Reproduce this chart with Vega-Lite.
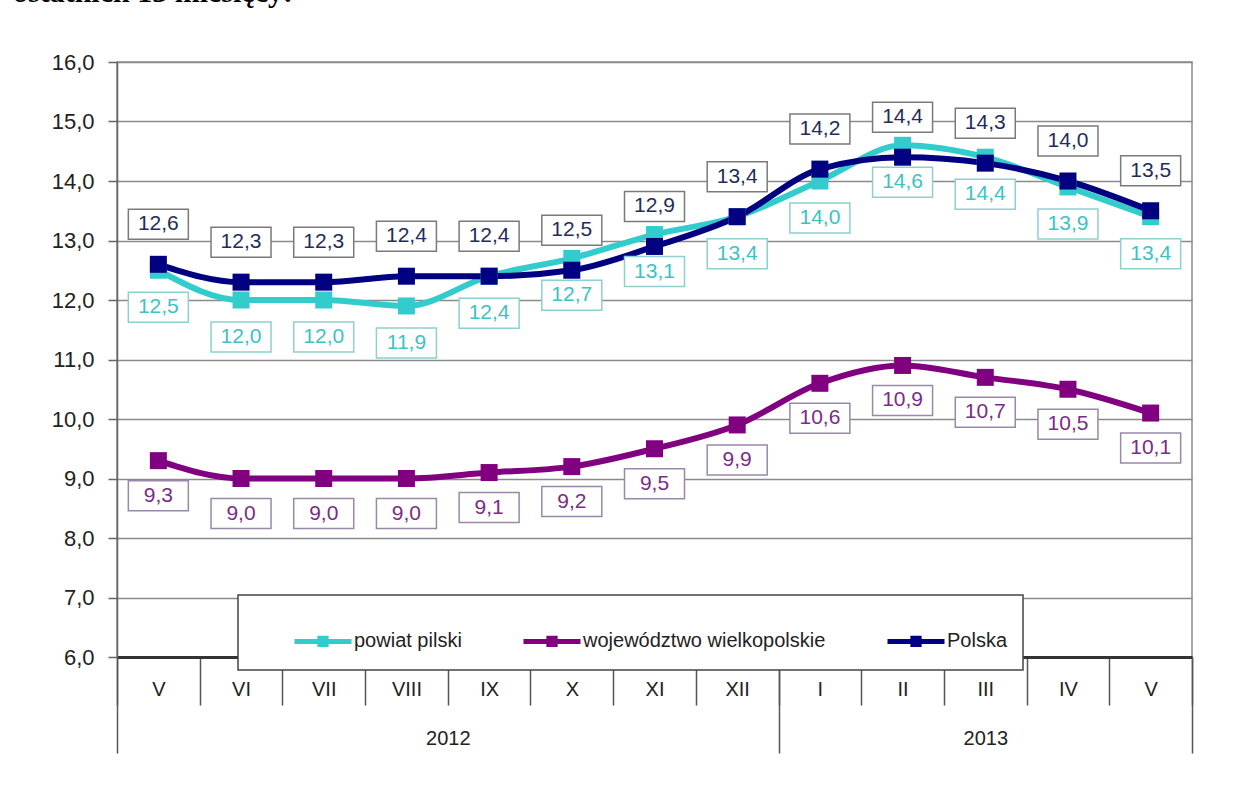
{
  "$schema": "https://vega.github.io/schema/vega-lite/v6.json",
  "width": 1075,
  "height": 595,
  "autosize": {"type": "none"},
  "padding": {"left": 117, "top": 62, "right": 42, "bottom": 136},
  "background": "white",
  "config": {
    "locale": {"number": {"decimal": ",", "thousands": "\u00a0", "grouping": [3], "currency": ["", " zł"]}},
    "view": {"stroke": "#8c8c8c", "strokeWidth": 1.5},
    "font": "Liberation Sans"
  },
  "title": {
    "text": "ostatnich 13 miesięcy:",
    "anchor": "start",
    "frame": "group",
    "offset": 19,
    "dx": -104,
    "baseline": "alphabetic",
    "font": "Liberation Serif",
    "fontSize": 30,
    "fontWeight": "bold",
    "color": "#000000"
  },
  "datasets": {
    "main": [
      {"series": "powiat pilski", "period": "V 2012", "value": 12.5},
      {"series": "powiat pilski", "period": "VI 2012", "value": 12.0},
      {"series": "powiat pilski", "period": "VII 2012", "value": 12.0},
      {"series": "powiat pilski", "period": "VIII 2012", "value": 11.9},
      {"series": "powiat pilski", "period": "IX 2012", "value": 12.4},
      {"series": "powiat pilski", "period": "X 2012", "value": 12.7},
      {"series": "powiat pilski", "period": "XI 2012", "value": 13.1},
      {"series": "powiat pilski", "period": "XII 2012", "value": 13.4},
      {"series": "powiat pilski", "period": "I 2013", "value": 14.0},
      {"series": "powiat pilski", "period": "II 2013", "value": 14.6},
      {"series": "powiat pilski", "period": "III 2013", "value": 14.4},
      {"series": "powiat pilski", "period": "IV 2013", "value": 13.9},
      {"series": "powiat pilski", "period": "V 2013", "value": 13.4},
      {"series": "województwo wielkopolskie", "period": "V 2012", "value": 9.3},
      {"series": "województwo wielkopolskie", "period": "VI 2012", "value": 9.0},
      {"series": "województwo wielkopolskie", "period": "VII 2012", "value": 9.0},
      {"series": "województwo wielkopolskie", "period": "VIII 2012", "value": 9.0},
      {"series": "województwo wielkopolskie", "period": "IX 2012", "value": 9.1},
      {"series": "województwo wielkopolskie", "period": "X 2012", "value": 9.2},
      {"series": "województwo wielkopolskie", "period": "XI 2012", "value": 9.5},
      {"series": "województwo wielkopolskie", "period": "XII 2012", "value": 9.9},
      {"series": "województwo wielkopolskie", "period": "I 2013", "value": 10.6},
      {"series": "województwo wielkopolskie", "period": "II 2013", "value": 10.9},
      {"series": "województwo wielkopolskie", "period": "III 2013", "value": 10.7},
      {"series": "województwo wielkopolskie", "period": "IV 2013", "value": 10.5},
      {"series": "województwo wielkopolskie", "period": "V 2013", "value": 10.1},
      {"series": "Polska", "period": "V 2012", "value": 12.6},
      {"series": "Polska", "period": "VI 2012", "value": 12.3},
      {"series": "Polska", "period": "VII 2012", "value": 12.3},
      {"series": "Polska", "period": "VIII 2012", "value": 12.4},
      {"series": "Polska", "period": "IX 2012", "value": 12.4},
      {"series": "Polska", "period": "X 2012", "value": 12.5},
      {"series": "Polska", "period": "XI 2012", "value": 12.9},
      {"series": "Polska", "period": "XII 2012", "value": 13.4},
      {"series": "Polska", "period": "I 2013", "value": 14.2},
      {"series": "Polska", "period": "II 2013", "value": 14.4},
      {"series": "Polska", "period": "III 2013", "value": 14.3},
      {"series": "Polska", "period": "IV 2013", "value": 14.0},
      {"series": "Polska", "period": "V 2013", "value": 13.5}
    ],
    "years": [
      {"year": "2012", "start": 0, "end": 8},
      {"year": "2013", "start": 8, "end": 13}
    ]
  },
  "layer": [
    {
      "data": {"name": "main"},
      "encoding": {
        "x": {
          "field": "period",
          "type": "nominal",
          "sort": null,
          "scale": {"type": "band", "paddingInner": 0, "paddingOuter": 0},
          "axis": {
            "title": null,
            "orient": "bottom",
            "grid": false,
            "tickBand": "extent",
            "tickSize": 48,
            "tickColor": "#555555",
            "tickWidth": 1.5,
            "labelAngle": 0,
            "labelPadding": -26,
            "labelFont": "Liberation Sans",
            "labelFontSize": 20,
            "labelColor": "#222222",
            "labelExpr": "split(datum.label, ' ')[0]",
            "domainColor": "#333333",
            "domainWidth": 3
          }
        },
        "y": {
          "field": "value",
          "type": "quantitative",
          "scale": {"domain": [6, 16], "nice": false, "zero": false},
          "axis": {
            "title": null,
            "values": [6, 7, 8, 9, 10, 11, 12, 13, 14, 15, 16],
            "format": ".1f",
            "labelFontSize": 22,
            "labelColor": "#222222",
            "labelPadding": 14,
            "tickSize": 9,
            "tickColor": "#666666",
            "tickWidth": 1.5,
            "domainColor": "#666666",
            "domainWidth": 1.5,
            "gridColor": "#8a8a8a",
            "gridWidth": 1.5
          }
        }
      },
      "layer": [
        {
          "mark": {"type": "line", "interpolate": "monotone", "strokeWidth": 6},
          "encoding": {
            "color": {
              "field": "series",
              "type": "nominal",
              "scale": {
                "domain": ["powiat pilski", "województwo wielkopolskie", "Polska"],
                "range": ["#33CCCC", "#800080", "#000080"]
              },
              "legend": {
                "orient": "none",
                "legendX": 121,
                "legendY": 533,
                "direction": "horizontal",
                "title": "\u00a0",
                "titleOrient": "left",
                "titlePadding": 39,
                "titleFontSize": 20,
                "fillColor": "white",
                "strokeColor": "#444444",
                "padding": 15,
                "columnPadding": 51,
                "labelFont": "Liberation Sans",
                "labelFontSize": 20,
                "labelColor": "#222222",
                "labelLimit": 400,
                "labelOffset": 0,
                "symbolType": "M-1,0H1M-0.11,-0.11H0.11V0.11H-0.11Z",
                "symbolSize": 3249,
                "symbolStrokeWidth": 5,
                "encode": {
                  "symbols": {
                    "update": {
                      "fill": {"scale": "color", "field": "value"},
                      "stroke": {"scale": "color", "field": "value"}
                    }
                  },
                  "legend": {"update": {"strokeWidth": {"value": 1.5}}}
                }
              }
            }
          }
        },
        {
          "mark": {"type": "point", "shape": "square", "filled": true, "size": 289, "opacity": 1},
          "encoding": {
            "color": {"field": "series", "type": "nominal"}
          }
        },
        {
          "mark": {
            "type": "point",
            "shape": "M-1,-0.5H1V0.5H-1Z",
            "size": 3600,
            "filled": false,
            "fill": "white",
            "fillOpacity": 1,
            "opacity": 1,
            "strokeWidth": 1.5,
            "yOffset": {"expr": "datum.series === 'Polska' ? -40 : (datum.series === 'powiat pilski' ? 37 : 35)"}
          },
          "encoding": {
            "stroke": {
              "field": "series",
              "type": "nominal",
              "scale": {
                "domain": ["powiat pilski", "województwo wielkopolskie", "Polska"],
                "range": ["#8fcfcf", "#9a88a8", "#7a7a7a"]
              },
              "legend": null
            }
          }
        },
        {
          "mark": {
            "type": "text",
            "font": "Liberation Sans",
            "fontSize": 21,
            "align": "center",
            "baseline": "middle",
            "yOffset": {"expr": "datum.series === 'Polska' ? -40 : (datum.series === 'powiat pilski' ? 37 : 35)"}
          },
          "encoding": {
            "text": {"field": "value", "type": "quantitative", "format": ".1f"},
            "fill": {
              "field": "series",
              "type": "nominal",
              "scale": {
                "domain": ["powiat pilski", "województwo wielkopolskie", "Polska"],
                "range": ["#3cc3c3", "#7a2c8a", "#1f2d5c"]
              },
              "legend": null
            }
          }
        }
      ]
    },
    {
      "data": {"name": "years"},
      "mark": {"type": "rule", "opacity": 0},
      "encoding": {
        "x": {
          "field": "start",
          "type": "quantitative",
          "scale": {"domain": [0, 13], "nice": false, "zero": false},
          "axis": {
            "orient": "bottom",
            "title": null,
            "values": [0, 4, 8, 10.5, 13],
            "labelExpr": "datum.value == 4 ? '2012' : (datum.value == 10.5 ? '2013' : '')",
            "tickSize": 96,
            "tickColor": "#555555",
            "tickWidth": 1.5,
            "tickOpacity": {"condition": {"test": "datum.value == 4 || datum.value == 10.5", "value": 0}, "value": 1},
            "domain": false,
            "grid": false,
            "labelPadding": -25,
            "labelFlush": false,
            "labelOverlap": false,
            "labelBound": false,
            "labelFont": "Liberation Sans",
            "labelFontSize": 20,
            "labelColor": "#222222"
          }
        }
      }
    }
  ],
  "resolve": {"scale": {"x": "independent"}}
}
